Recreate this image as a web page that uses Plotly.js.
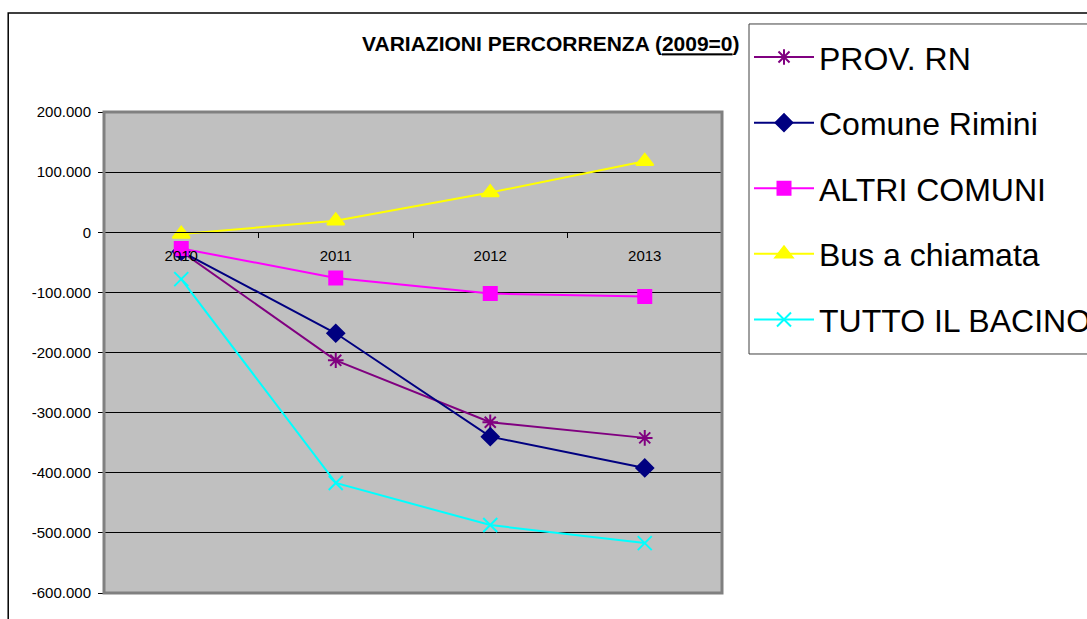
<!DOCTYPE html>
<html>
<head>
<meta charset="utf-8">
<script src="https://cdn.plot.ly/plotly-3.0.1.min.js"></script>
<style>
  html, body { margin: 0; padding: 0; background: #ffffff; overflow: hidden; }
  #chart { width: 1087px; height: 619px; }
</style>
</head>
<body>
<div id="chart"></div>
<script>
// ---- data ----
const years = ["2010", "2011", "2012", "2013"];

const provRN       = [-32000, -213000, -316000, -342000];
const comuneRimini = [-32000, -168000, -340000, -392000];
const altriComuni  = [-27000, -76000, -102000, -107000];
const busChiamata  = [-3000, 19000, 66000, 118000];
const tuttoBacino  = [-78000, -417000, -487000, -517000];

const seriesNames = ["PROV. RN", "Comune Rimini", "ALTRI COMUNI", "Bus a chiamata", "TUTTO IL BACINO"];

const yTickVals = [200000, 100000, 0, -100000, -200000, -300000, -400000, -500000, -600000];
const yTickText = ["200.000", "100.000", "0", "-100.000", "-200.000", "-300.000", "-400.000", "-500.000", "-600.000"];

const titleText = "<b>VARIAZIONI PERCORRENZA (<u>2009=0</u>)</b>";

// ---- traces ----
function mk(name, y, color, symbol, size, group) {
  return {
    type: "scatter",
    mode: "lines+markers",
    name: name,
    x: years,
    y: y,
    legendgroup: group,
    line: { color: color, width: 2 },
    marker: { color: color, symbol: symbol, size: size, line: { color: color, width: 2 } },
    cliponaxis: false,
    hoverinfo: "x+y+name"
  };
}

const traces = [
  mk(seriesNames[0], provRN, "#800080", "asterisk-open", 13, "g1"),
  mk(seriesNames[1], comuneRimini, "#000080", "diamond", 13, "g2"),
  mk(seriesNames[2], altriComuni, "#FF00FF", "square", 13, "g3"),
  mk(seriesNames[3], busChiamata, "#FFFF00", "triangle-up", 15, "g4"),
  mk(seriesNames[4], tuttoBacino, "#00FFFF", "x-thin-open", 14, "g5")
];

const FONT = "Liberation Sans, Arial, Helvetica, sans-serif";

const layout = {
  width: 1087,
  height: 619,
  margin: { l: 104, r: 365, t: 112, b: 26, autoexpand: false },
  paper_bgcolor: "#ffffff",
  plot_bgcolor: "#c0c0c0",
  font: { family: FONT, color: "#000000", size: 15 },
  showlegend: true,
  title: {
    text: titleText,
    font: { family: FONT, size: 21, color: "#000000" },
    x: 0.723, xref: "paper", xanchor: "center",
    y: 0.929, yref: "container", yanchor: "middle"
  },
  xaxis: {
    type: "category",
    range: [-0.5, 3.5],
    anchor: "free",
    position: 0.75,
    showline: true,
    linecolor: "#000000",
    linewidth: 1,
    ticks: "outside",
    ticklen: 5,
    tickwidth: 1,
    tickcolor: "#000000",
    tickson: "boundaries",
    showgrid: false,
    zeroline: false,
    ticklabelstandoff: 10,
    tickfont: { family: FONT, size: 15, color: "#000000" },
    fixedrange: true
  },
  yaxis: {
    range: [-600000, 200000],
    tickvals: yTickVals,
    ticktext: yTickText,
    showgrid: true,
    gridcolor: "#000000",
    gridwidth: 1,
    zeroline: false,
    showline: false,
    ticks: "outside",
    ticklen: 5,
    tickwidth: 1,
    tickcolor: "#000000",
    ticklabelstandoff: 4,
    tickfont: { family: FONT, size: 15, color: "#000000" },
    fixedrange: true
  },
  legend: {
    x: 1.0437, xref: "paper", xanchor: "left",
    y: 1.171, yref: "paper", yanchor: "top",
    bgcolor: "rgba(0,0,0,0)",
    borderwidth: 0,
    font: { family: FONT, size: 32, color: "#000000" },
    traceorder: "grouped",
    tracegroupgap: 21,
    itemwidth: 60
  },
  shapes: [
    // chart outer frame
    { type: "rect", xref: "paper", yref: "paper",
      x0: -0.155, x1: 1.8, y0: -0.2, y1: 1.2058,
      line: { color: "#000000", width: 1.5 }, fillcolor: "rgba(0,0,0,0)", layer: "above" },
    // plot area frame
    { type: "rect", xref: "paper", yref: "paper",
      x0: 0, x1: 1, y0: 0, y1: 1,
      line: { color: "#808080", width: 3 }, fillcolor: "rgba(0,0,0,0)", layer: "above" },
    // legend frame
    { type: "rect", xref: "paper", yref: "paper",
      x0: 1.0437, x1: 1.8, y0: 0.4969, y1: 1.183,
      line: { color: "#404040", width: 1 }, fillcolor: "#ffffff", layer: "above" }
  ]
};

Plotly.newPlot("chart", traces, layout, { displayModeBar: false, staticPlot: true });
</script>
</body>
</html>
